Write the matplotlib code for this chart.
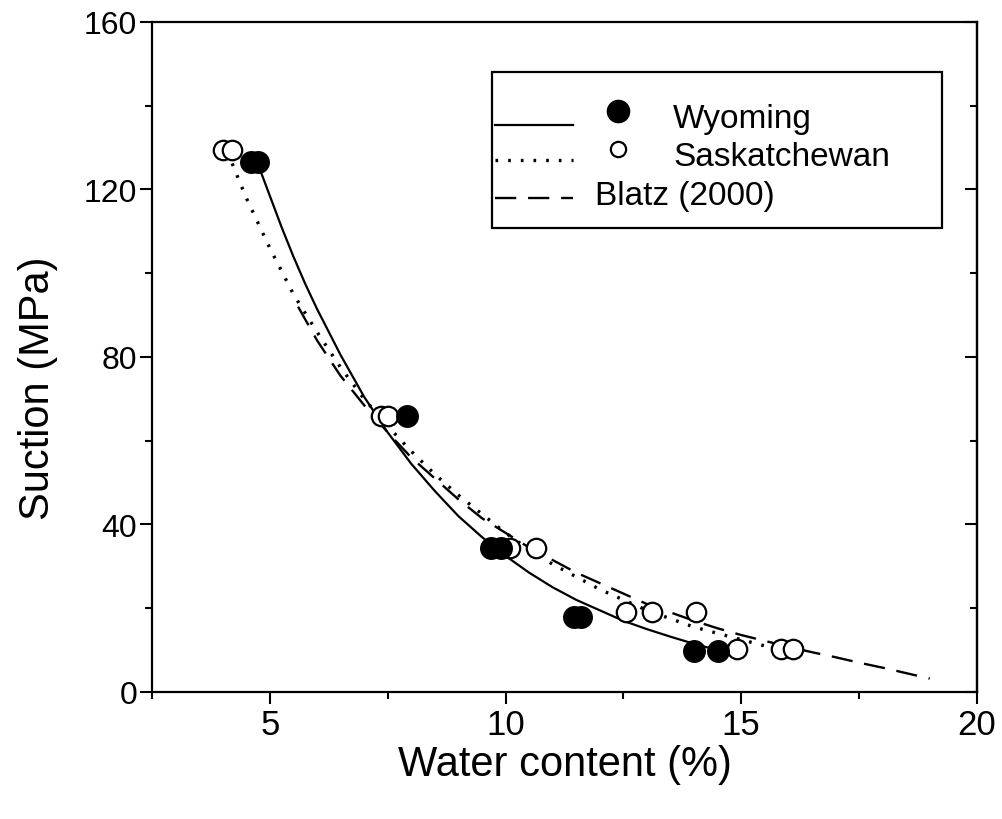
import matplotlib
matplotlib.use("Agg")
import matplotlib.pyplot as plt
import numpy as np
from matplotlib.patches import Rectangle
from matplotlib.ticker import MultipleLocator

plt.rcParams['font.family'] = ['Liberation Sans', 'DejaVu Sans']

###### data ######
# measured points (water content %, suction MPa)
wy_w = [4.6, 4.75, 7.9, 9.7, 9.9, 11.45, 11.6, 14.0, 14.5]
wy_s = [126.5, 126.5, 66, 34.5, 34.5, 18, 18, 9.8, 9.8]

sk_w = [4.0, 4.2, 7.35, 7.5, 10.1, 10.65, 12.55, 13.1, 14.05, 14.9, 15.85, 16.1]
sk_s = [129.5, 129.5, 66, 66, 34.5, 34.5, 19, 19, 19, 10.2, 10.2, 10.2]

# fitted curve for Wyoming
wy_fit_w = [4.75, 5.0, 5.25, 5.5, 5.75, 6.0, 6.5, 7.0, 7.5, 8.0, 8.5, 9.0, 9.5, 10.0,
            10.5, 11.0, 11.5, 12.0, 12.5, 13.0, 13.5, 14.0, 14.5]
wy_fit_s = [126, 118.5, 111, 104, 97.5, 91.5, 80.5, 70.5, 62, 54.5, 48, 42, 37, 32.5,
            28.5, 25, 22, 19.5, 17, 15, 13.2, 11.5, 10]

# fitted curve for Saskatchewan
sk_fit_w = [4.1, 4.5, 5.0, 5.5, 6.0, 6.5, 7.0, 7.5, 8.0, 8.5, 9.0, 9.5, 10.0,
            10.5, 11.0, 11.5, 12.0, 12.5, 13.0, 13.5, 14.0, 14.5, 15.0, 15.5, 16.0]
sk_fit_s = [129, 118, 106, 95, 86, 77.5, 70, 63.5, 57.5, 52, 47, 42.5, 38,
            34, 30.5, 27.5, 24.5, 22, 19.5, 17.5, 15.5, 14, 12.5, 11, 10]

# Blatz (2000)
bl_w = [5.6, 6.0, 6.5, 7.0, 7.5, 8.0, 8.5, 9.0, 9.5, 10.0, 10.5, 11.0, 11.5, 12.0,
        12.5, 13.0, 13.5, 14.0, 14.5, 15.0, 15.5, 16.0, 16.5, 17.0, 17.5, 18.0, 18.5, 19.0]
bl_s = [92, 84, 75.5, 68.5, 62, 56, 51, 46, 41.5, 38, 34.5, 31.5, 28.5, 26,
        23.5, 21, 19, 17, 15.2, 13.6, 12.2, 10.8, 9.5, 8.3, 7, 5.8, 4.5, 3.2]

legend_labels = ['Wyoming', 'Saskatchewan', 'Blatz (2000)']

###### plot ######
fig = plt.figure(figsize=(10.03, 8.2), dpi=100)
ax = fig.add_axes([0.1515, 0.1549, 0.8225, 0.8171])

dotted = (0, (0.8, 3.0))
dashed = (0, (9, 5))

ax.plot(wy_fit_w, wy_fit_s, '-', color='black', linewidth=1.6)
ax.plot(sk_fit_w, sk_fit_s, linestyle=dotted, color='black', linewidth=2.4)
ax.plot(bl_w, bl_s, linestyle=dashed, color='black', linewidth=1.7)

ax.plot(sk_w, sk_s, 'o', markersize=14, markerfacecolor='white',
        markeredgecolor='black', markeredgewidth=1.6, linestyle='none')
ax.plot(wy_w, wy_s, 'o', markersize=15.5, color='black', linestyle='none')

ax.set_xlim(2.5, 20)
ax.set_ylim(0, 160)
ax.xaxis.set_major_locator(MultipleLocator(5))
ax.xaxis.set_minor_locator(MultipleLocator(2.5))
ax.yaxis.set_major_locator(MultipleLocator(40))
ax.yaxis.set_minor_locator(MultipleLocator(20))

ax.tick_params(axis='both', which='major', width=1.5, length=8.5, color='black')
ax.tick_params(axis='both', which='minor', width=1.5, length=5)
ax.tick_params(axis='x', which='both', direction='out', top=False, pad=3, labelsize=25)
ax.tick_params(axis='y', which='both', direction='out', right=False, pad=2, labelsize=23)
for s in ax.spines.values():
    s.set_linewidth(1.6)

# inward ticks on the right side
ax_r = ax.secondary_yaxis('right')
ax_r.yaxis.set_major_locator(MultipleLocator(40))
ax_r.yaxis.set_minor_locator(MultipleLocator(20))
ax_r.tick_params(which='major', direction='in', length=8.5, width=1.5, labelright=False)
ax_r.tick_params(which='minor', direction='in', length=5, width=1.5)
ax_r.spines['right'].set_linewidth(1.6)

ax.set_xlabel('Water content (%)', fontsize=30, labelpad=2)
ax.set_ylabel('Suction (MPa)', fontsize=30)
ax.yaxis.set_label_coords(-0.114, 0.455)

###### legend box ######
tr = ax.transAxes
ax.add_patch(Rectangle((0.412, 0.693), 0.546, 0.232, transform=tr,
                       facecolor='white', edgecolor='black', linewidth=1.6, zorder=5))
ax.plot([0.416, 0.51], [0.846, 0.846], '-', color='black', linewidth=1.6, transform=tr, zorder=6)
ax.plot([0.416, 0.51], [0.794, 0.794], linestyle=dotted, color='black', linewidth=2.4,
        transform=tr, zorder=6)
ax.plot([0.416, 0.51], [0.737, 0.737], linestyle=dashed, color='black', linewidth=1.7,
        transform=tr, zorder=6)
ax.plot([0.565], [0.867], 'o', markersize=16, color='black', transform=tr, zorder=6)
ax.plot([0.565], [0.81], 'o', markersize=11, markerfacecolor='white',
        markeredgecolor='black', markeredgewidth=1.6, transform=tr, zorder=6)
ax.text(0.632, 0.843, legend_labels[0], fontsize=24, va='baseline', transform=tr, zorder=7)
ax.text(0.632, 0.787, legend_labels[1], fontsize=24, va='baseline', transform=tr, zorder=7)
ax.text(0.537, 0.728, legend_labels[2], fontsize=24, va='baseline', transform=tr, zorder=7)

fig.savefig('out.png', dpi=100)
